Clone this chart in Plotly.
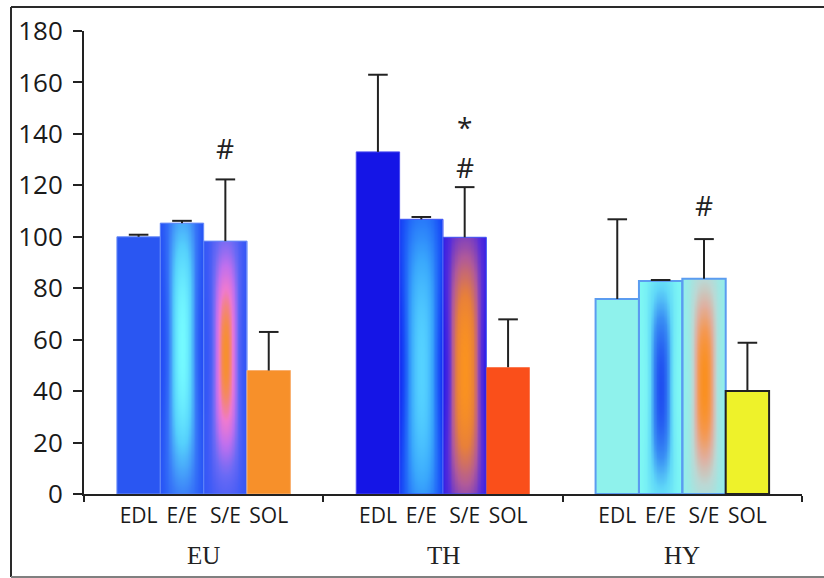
import numpy as np
import plotly.graph_objects as go

# ---------------- data ----------------
groups = ["EU", "TH", "HY"]
muscles = ["EDL", "E/E", "S/E", "SOL"]

edl = [100.0, 133.0, 75.8]
ee = [105.3, 106.8, 82.8]
se = [98.3, 99.8, 83.7]
sol = [48.0, 49.3, 40.0]

edl_err = [0.8, 30.0, 31.0]
ee_err = [0.9, 0.9, 0.4]
se_err = [24.0, 19.5, 15.4]
sol_err = [15.0, 18.6, 18.8]

# significance marks: (group index, series index, text, y)
mark_group = [0, 1, 1, 2]
mark_series = [2, 2, 2, 2]
mark_text = ["#", "*", "#", "#"]
mark_y = [134.5, 142.5, 127.0, 112.4]

values = [edl, ee, se, sol]
errors = [edl_err, ee_err, se_err, sol_err]

# ---------------- style ----------------
INK = "#222222"
bargap = 0.275
bw = (1 - bargap) / 4.0

solid_fill = {
    0: ["#2a56f2", "#1515e6", "#8ff2ec"],
    3: ["#f7902a", "#fa4f1a", "#eef22a"],
}
line_cols = {
    0: ["#6f8ff6", "#4a4af0", "#5b9cf0"],
    1: ["#5a80f8", "#3a50f4", "#5b9cf0"],
    2: ["#5a80f8", "#3a50f4", "#5b9cf0"],
    3: ["#f9b070", "#fb8a60", "#222222"],
}
line_w = {
    0: [1, 1, 2],
    1: [1, 1, 2],
    2: [1, 1, 2],
    3: [1, 0, 2],
}

# gradient styles for E/E (series 1) and S/E (series 2):
# colorscale, centre height, vertical spread, horizontal spread
grad = {
    (1, 0): ([[0, "#2249f5"], [0.3, "#3a7cf8"], [0.65, "#55d0fc"], [1, "#74faff"]], 0.55, 0.52, 0.62),
    (2, 0): ([[0, "#2f55f6"], [0.3, "#6a6af5"], [0.55, "#c070ee"], [0.75, "#ee7ad0"], [1, "#f7902e"]], 0.55, 0.44, 0.58),
    (1, 1): ([[0, "#0a12f2"], [0.35, "#1f60f8"], [0.7, "#3aa8fc"], [1, "#55d2ff"]], 0.45, 0.62, 0.8),
    (2, 1): ([[0, "#1010f0"], [0.3, "#5a2ed8"], [0.55, "#b05a9a"], [0.8, "#e8803a"], [1, "#fa9220"]], 0.48, 0.55, 0.78),
    (1, 2): ([[0, "#7ff8f4"], [0.3, "#60d8f8"], [0.6, "#3a90f4"], [1, "#1f4ff0"]], 0.50, 0.44, 0.5),
    (2, 2): ([[0, "#90f0ec"], [0.3, "#bcd8d4"], [0.55, "#e0b0a0"], [0.8, "#f59850"], [1, "#fa9020"]], 0.52, 0.44, 0.55),
}


def offset_of(j):
    return -(1 - bargap) / 2 + j * bw


def centre_of(g, j):
    return g + offset_of(j) + bw / 2


fig = go.Figure()

# gradient fills (drawn beneath bar outlines)
NX, NY = 30, 60
for (j, g), (cs, yc, sy, sx) in grad.items():
    top = values[j][g]
    left = g + offset_of(j)
    xs = [left + (i + 0.5) * bw / NX for i in range(NX)]
    ys = [(k + 0.5) * top / NY for k in range(NY)]
    u = np.array([(i + 0.5) / NX * 2 - 1 for i in range(NX)])
    v = np.array([(k + 0.5) / NY for k in range(NY)])
    U, V = np.meshgrid(u, v)
    sxv = sx * (0.9 + 0.35 * ((V - yc) / 0.5) ** 2)
    Z = np.exp(-np.abs(U / sxv) ** 2.4) * np.exp(-np.abs((V - yc) / sy) ** 2.4)
    fig.add_trace(go.Heatmap(
        x=xs, y=ys, z=Z.tolist(), colorscale=cs, zmin=0, zmax=1,
        zsmooth="best", showscale=False, hoverinfo="skip",
    ))

# bars
for j, name in enumerate(muscles):
    if j in solid_fill:
        fills = solid_fill[j]
    else:
        fills = ["rgba(0,0,0,0)"] * 3
    fig.add_trace(go.Bar(
        x=[0, 1, 2], y=values[j], name=name,
        offset=offset_of(j), width=bw,
        marker=dict(color=fills, line=dict(color=line_cols[j], width=line_w[j])),
        error_y=dict(type="data", array=errors[j], arrayminus=[0, 0, 0],
                     symmetric=False, color=INK, thickness=2, width=0),
        showlegend=False,
    ))

# error bar caps
cap_x, cap_y = [], []
for j in range(4):
    for g in range(3):
        cap_x.append(centre_of(g, j))
        cap_y.append(values[j][g] + errors[j][g])
fig.add_trace(go.Scatter(
    x=cap_x, y=cap_y, mode="markers",
    marker=dict(symbol="line-ew", size=14, line=dict(color=INK, width=2)),
    showlegend=False, hoverinfo="skip",
))

# significance marks
for g, j, t, y in zip(mark_group, mark_series, mark_text, mark_y):
    fig.add_annotation(x=centre_of(g, j), y=y, text=t, showarrow=False,
                       font=dict(family="Open Sans", size=28, color=INK),
                       xanchor="center", yanchor="middle")

# group labels
for g, name in enumerate(groups):
    fig.add_annotation(x=g, y=(494 - 555) / 463, xref="x", yref="paper",
                       text=name, showarrow=False,
                       font=dict(family="Liberation Serif", size=25, color=INK),
                       xanchor="center", yanchor="middle")

tick_x = [centre_of(g, j) for g in range(3) for j in range(4)]
tick_t = muscles * 3

fig.update_xaxes(
    range=[-0.5, 2.5], showline=True, linecolor=INK, linewidth=2,
    tickmode="array", tickvals=tick_x, ticktext=tick_t, ticks="",
    tickfont=dict(family="Open Sans", size=21, color="#1a1a1a"),
    ticklabelstandoff=2, showgrid=False, zeroline=False,
    minor=dict(tickmode="array", tickvals=[-0.5, 0.5, 1.5, 2.5], ticks="outside",
               ticklen=6, tickwidth=2, tickcolor=INK, showgrid=False),
)
fig.update_yaxes(
    range=[0, 180], tickmode="array", tickvals=list(range(0, 181, 20)),
    showline=True, linecolor=INK, linewidth=2, ticks="outside", ticklen=9,
    tickwidth=2, tickcolor=INK, showgrid=False, zeroline=False,
    tickfont=dict(family="Open Sans", size=26, color="#1a1a1a"),
    ticklabelstandoff=5,
)

# outer frame
def px_x(p):
    return (p - 84) / 718.0


def px_y(p):
    return (494 - p) / 463.0


fig.add_shape(type="line", xref="paper", yref="paper", x0=px_x(11), x1=px_x(830),
              y0=px_y(7), y1=px_y(7), line=dict(color="#2a2a2a", width=2))
fig.add_shape(type="line", xref="paper", yref="paper", x0=px_x(11), x1=px_x(11),
              y0=px_y(7), y1=px_y(577), line=dict(color="#2a2a2a", width=2))
fig.add_shape(type="line", xref="paper", yref="paper", x0=px_x(11), x1=px_x(830),
              y0=px_y(577), y1=px_y(577), line=dict(color="#808080", width=2))

fig.update_layout(
    width=824, height=578, autosize=False,
    margin=dict(l=84, r=22, t=31, b=84),
    paper_bgcolor="white", plot_bgcolor="white",
    barmode="overlay", showlegend=False,
)

fig.write_html("out.html")
